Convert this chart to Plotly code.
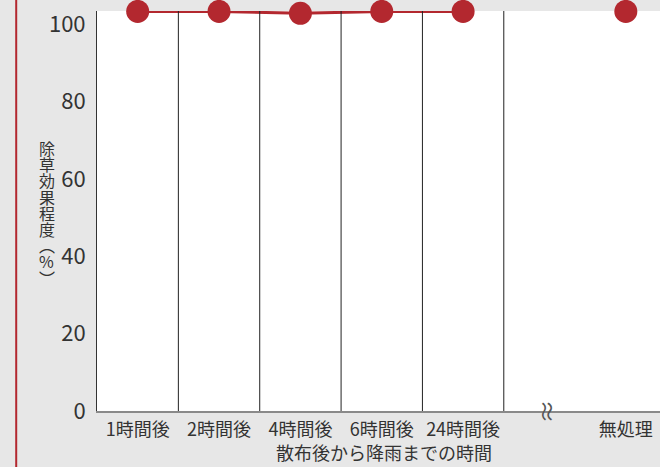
import plotly.graph_objects as go

# Weed control effect by time from spraying to rainfall
categories = ["1時間後", "2時間後", "4時間後", "6時間後", "24時間後", "無処理"]
positions = [0, 1, 2, 3, 4, 6]
effect = [103.3, 103.3, 102.8, 103.3, 103.3, 103.3]
y_ticks = [0, 20, 40, 60, 80, 100]
y_title_chars = list("除草効果程度") + ["︵", "%", "︶"]

RED = "#b3282f"
FONT = "Noto Sans CJK JP"
PLOT_TOP, PLOT_H = 11, 400

fig = go.Figure()

# connected series for the rainfall timings
fig.add_trace(go.Scatter(
    x=positions[:5], y=effect[:5], mode="lines+markers",
    line=dict(color=RED, width=3),
    marker=dict(color=RED, size=23),
    cliponaxis=False, showlegend=False,
))
# untreated control, drawn on its own
fig.add_trace(go.Scatter(
    x=positions[5:], y=effect[5:], mode="markers",
    marker=dict(color=RED, size=23),
    cliponaxis=False, showlegend=False,
))

shapes = []
# category dividers
for b in [0.5, 1.5, 2.5, 3.5, 4.5]:
    shapes.append(dict(type="line", xref="x", yref="paper", x0=b, x1=b, y0=0, y1=1,
                       line=dict(color="#222", width=1), layer="above"))
# red rule at the page's left edge
shapes.append(dict(type="line", xref="paper", yref="paper", x0=-0.1435, x1=-0.1435,
                   y0=-0.2, y1=1.1, line=dict(color=RED, width=2)))

annotations = [
    dict(text="散布後から降雨までの時間", xref="paper", yref="paper", x=0.51, y=-0.102,
         xanchor="center", yanchor="middle", showarrow=False, font=dict(size=18, color="#333")),
    dict(text="≈", xref="x", yref="paper", x=5.05, y=0.0, xanchor="center", yanchor="middle",
         textangle=90, showarrow=False, font=dict(size=24, color="#555")),
]
# vertical y-axis title, one character per line
for i, ch in enumerate(y_title_chars):
    py = 148 + i * 16.2
    annotations.append(dict(
        text=ch, xref="paper", yref="paper", x=-0.089, y=(PLOT_TOP + PLOT_H - py) / PLOT_H,
        xanchor="center", yanchor="middle", showarrow=False,
        font=dict(size=16, color="#333"),
    ))

fig.update_layout(
    width=660, height=467,
    margin=dict(l=97, r=0, t=PLOT_TOP, b=467 - PLOT_TOP - PLOT_H),
    paper_bgcolor="#e7e7e7",
    plot_bgcolor="#ffffff",
    font=dict(family=FONT, color="#333"),
    shapes=shapes,
    annotations=annotations,
    xaxis=dict(
        range=[-0.5, 6.42], tickmode="array", tickvals=positions, ticktext=categories,
        showgrid=False, zeroline=False, showline=True, linecolor="#8a8a8a", linewidth=2,
        tickfont=dict(size=18, color="#333"), ticks="", ticklabelstandoff=1,
    ),
    yaxis=dict(
        range=[0, 103.4], tickmode="array", tickvals=y_ticks,
        showgrid=False, zeroline=False, showline=True, linecolor="#333", linewidth=1,
        tickfont=dict(size=22, color="#333"), ticks="", ticklabelstandoff=6,
    ),
)

fig.write_html("out.html")
